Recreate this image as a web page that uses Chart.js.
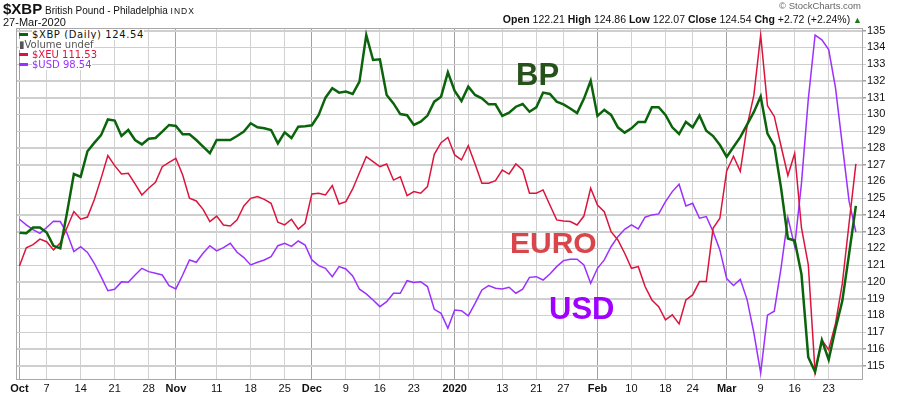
<!DOCTYPE html>
<html>
<head>
<meta charset="utf-8">
<script src="https://cdn.jsdelivr.net/npm/chart.js@4.4.1/dist/chart.umd.min.js"></script>
<style>
  html, body { margin: 0; padding: 0; background: #fff; }
  #wrap { position: relative; width: 900px; height: 396px; overflow: hidden; font-family: "Liberation Sans", Arial, sans-serif; }
  #c { position: absolute; left: 0; top: 0; }
  .t { position: absolute; white-space: nowrap; line-height: 1; color: #111; }
  .ann { position: absolute; white-space: nowrap; line-height: 1; font-weight: bold; font-family: "Liberation Sans", Arial, sans-serif; }
  .lg { position: absolute; left: 19px; white-space: nowrap; line-height: 1; font-size: 10px; font-family: "DejaVu Sans", sans-serif; }
  .lg i { display: inline-block; width: 9px; height: 3px; vertical-align: middle; margin-right: 4px; position: relative; top: -1px; }
  .lg span { background: #fff; }
</style>
</head>
<body>
<div id="wrap">
  <canvas id="c" width="900" height="396"></canvas>

  <div class="t" style="left:3px; top:1px;"><span style="font-weight:bold;font-size:15px;">$XBP</span><span style="font-size:10px;"> British Pound - Philadelphia </span><span style="font-size:8.5px;letter-spacing:1px;">INDX</span></div>
  <div class="t" style="left:3px; top:17px; font-size:11px;">27-Mar-2020</div>
  <div class="t" style="right:39px; top:1px; font-size:9.5px; color:#666;">© StockCharts.com</div>
  <div class="t" style="right:38px; top:14px; font-size:10.5px;"><b>Open</b> 122.21 <b>High</b> 124.86 <b>Low</b> 122.07 <b>Close</b> 124.54 <b>Chg</b> +2.72 (+2.24%) <span style="color:#1a7a1a;font-size:9px;">▲</span></div>

  <div class="lg" style="top:30px;"><i style="background:#0b640b"></i><span style="color:#111;letter-spacing:0.6px;">$XBP (Daily) 124.54</span></div>
  <div class="lg" style="top:40px;"><span style="color:#555;">▮Volume undef</span></div>
  <div class="lg" style="top:50px;"><i style="background:#dc143c"></i><span style="color:#dc143c;">$XEU 111.53</span></div>
  <div class="lg" style="top:60px;"><i style="background:#9b30ff"></i><span style="color:#9b30ff;">$USD 98.54</span></div>

  <div class="ann" style="left:516px; top:59px; font-size:31px; color:#26511b;">BP</div>
  <div class="ann" style="left:510px; top:228px; font-size:30px; color:#d9454a;">EURO</div>
  <div class="ann" style="left:549px; top:293px; font-size:31px; color:#a000ff;">USD</div>
</div>

<script>
// ---- Data (trading days 1-Oct-2019 .. 27-Mar-2020) ----
const xbp = [
  122.94,122.90,123.25,123.25,122.95,122.15,122.00,124.15,126.44,126.28,
  127.80,128.30,128.76,129.70,129.63,128.71,129.07,128.47,128.21,128.55,
  128.59,128.97,129.37,129.31,128.81,128.81,128.47,128.07,127.68,128.47,
  128.47,128.47,128.71,128.97,129.47,129.23,129.17,129.07,128.27,128.93,
  128.59,129.27,129.30,129.35,129.97,131.00,131.56,131.30,131.36,131.22,
  131.96,134.74,133.25,133.29,131.16,130.66,130.02,129.95,129.37,129.57,
  129.93,130.76,131.06,132.51,131.40,130.80,131.66,131.16,130.96,130.60,
  130.60,129.91,130.10,130.46,130.62,130.16,130.42,131.30,131.22,130.76,
  130.60,130.35,130.08,130.93,132.01,129.91,130.27,129.97,129.23,128.91,
  129.17,129.55,129.55,130.43,130.43,129.97,129.23,128.83,129.55,129.23,
  129.93,129.03,128.71,128.18,127.46,128.05,128.64,129.39,130.15,131.07,
  128.85,128.14,125.60,122.59,122.47,120.45,115.50,114.63,116.52,115.35,
  117.20,118.85,121.67,124.54
];
const xeu = [
  120.95,122.04,122.22,122.55,122.40,121.91,122.32,123.25,124.20,123.74,
  123.87,124.90,126.18,127.54,126.94,126.44,126.48,125.85,125.19,125.59,
  125.95,126.88,127.14,127.38,126.38,124.99,124.83,124.33,123.60,123.93,
  123.40,123.34,123.70,124.53,124.99,125.09,124.93,124.69,123.56,123.40,
  123.74,123.15,123.50,125.25,125.29,125.19,125.75,124.65,124.79,125.55,
  126.52,127.48,127.18,126.88,127.04,126.08,126.28,125.15,125.39,125.29,
  125.69,127.62,128.31,128.63,127.58,127.28,128.13,127.04,125.89,125.89,
  126.04,126.68,126.44,127.04,126.68,125.29,125.29,125.49,124.59,123.70,
  123.64,123.60,123.40,123.93,125.59,124.59,124.19,123.00,122.50,121.71,
  120.81,120.91,119.72,118.92,118.52,117.73,118.03,117.49,118.92,119.22,
  120.02,120.02,123.20,123.80,126.62,127.50,126.60,129.30,131.15,134.74,
  130.52,129.88,128.10,126.35,127.67,123.22,121.03,114.60,116.52,115.95,
  117.50,119.88,123.50,127.05
];
const usd = [
  123.74,123.40,123.12,122.90,123.25,123.62,123.60,122.90,121.81,122.10,
  121.76,121.11,120.31,119.47,119.56,120.00,119.98,120.41,120.81,120.61,
  120.51,120.41,119.78,119.58,120.41,121.31,121.17,121.71,122.16,121.85,
  122.04,122.30,121.77,121.45,121.01,121.17,121.31,121.51,122.16,122.30,
  122.12,122.44,122.20,121.31,120.97,120.81,120.31,120.91,120.77,120.35,
  119.56,119.28,118.92,118.52,118.82,119.32,119.32,120.07,119.97,120.01,
  119.72,118.36,118.12,117.23,118.32,118.28,117.97,118.72,119.52,119.78,
  119.62,119.58,119.68,119.32,119.56,120.27,120.31,120.11,120.47,120.91,
  121.27,121.35,121.35,121.01,119.92,120.81,121.31,122.10,122.70,123.14,
  123.40,123.16,123.86,124.00,124.06,124.79,125.39,125.83,124.53,124.69,
  123.80,123.90,123.00,121.91,120.20,119.78,120.15,118.94,116.95,114.56,
  118.01,118.25,120.83,123.84,122.12,125.90,130.90,134.74,134.45,133.87,
  131.60,128.20,124.82,122.98
];
// x-axis ticks: trading-day index of each weekly grid line and its label
const tickPos    = [0, 4, 9, 14, 19, 23, 29, 34, 39, 43, 48, 53, 58, 62, 64, 66, 71, 76, 80, 85, 90, 95, 99, 104, 109, 114, 119];
const tickLabels = ["Oct","7","14","21","28","Nov","11","18","25","Dec","9","16","23","","2020","","13","21","27","Feb","10","18","24","Mar","9","16","23"];
const monthTicks = [0, 23, 43, 64, 85, 104];
const yTicks = [115,116,117,118,119,120,121,122,123,124,125,126,127,128,129,130,131,132,133,134,135];

const toPts = arr => arr.map((v, i) => ({ x: i, y: v }));

const framePlugin = {
  id: 'frame',
  beforeDatasetsDraw(chart) {
    const a = chart.chartArea, c = chart.ctx;
    const ys = chart.scales.y;
    c.save();
    c.strokeStyle = '#cfcfcf';
    c.lineWidth = 1;
    yTicks.forEach(v => {
      const y = Math.round(ys.getPixelForValue(v)) + 0.5;
      c.beginPath(); c.moveTo(a.left, y); c.lineTo(a.right + 4, y); c.stroke();
    });
    c.restore();
  },
  afterDatasetsDraw(chart) {
    const a = chart.chartArea, c = chart.ctx;
    c.save();
    c.strokeStyle = '#a8a8a8';
    c.lineWidth = 1;
    c.strokeRect(Math.round(a.left) + 0.5, Math.round(a.top) + 0.5, Math.round(a.right - a.left), Math.round(a.bottom - a.top));
    c.restore();
  }
};

new Chart(document.getElementById('c'), {
  type: 'line',
  data: {
    datasets: [
      { label: '$XBP', data: toPts(xbp), borderColor: '#0b640b', borderWidth: 2.5 },
      { label: '$XEU', data: toPts(xeu), borderColor: '#dc143c', borderWidth: 1.5 },
      { label: '$USD', data: toPts(usd), borderColor: '#9b30ff', borderWidth: 1.5 }
    ]
  },
  options: {
    responsive: false,
    animation: false,
    devicePixelRatio: 1,
    elements: { point: { radius: 0 }, line: { tension: 0, borderJoinStyle: 'miter' } },
    layout: { padding: { left: 16, top: 28, right: 0, bottom: 0 } },
    plugins: { legend: { display: false }, tooltip: { enabled: false } },
    scales: {
      x: {
        type: 'linear',
        min: -0.51,
        max: 123.9,
        afterBuildTicks: s => { s.ticks = tickPos.map(v => ({ value: v })); },
        afterFit: s => { s.height = 17; },
        grid: {
          color: ctx => (ctx.tick && monthTicks.includes(ctx.tick.value)) ? '#a0a0a0' : '#d2d2d2',
          lineWidth: 1,
          drawTicks: false
        },
        border: { display: false },
        ticks: {
          autoSkip: false,
          maxRotation: 0,
          padding: 3,
          color: '#111',
          font: ctx => ({ family: 'Liberation Sans, Arial, sans-serif', size: 11, weight: (ctx.tick && monthTicks.includes(ctx.tick.value)) ? 'bold' : 'normal' }),
          callback: (v) => { const k = tickPos.indexOf(v); return k >= 0 ? tickLabels[k] : ''; }
        }
      },
      y: {
        position: 'right',
        min: 114.2,
        max: 135.16,
        afterBuildTicks: s => { s.ticks = yTicks.map(v => ({ value: v })); },
        afterFit: s => { s.width = 38; },
        grid: { color: '#cfcfcf', lineWidth: 1, tickLength: 4, tickColor: '#a0a0a0' },
        border: { display: false },
        ticks: {
          padding: 1,
          color: '#111',
          font: { family: 'Liberation Sans, Arial, sans-serif', size: 11 }
        }
      }
    }
  },
  plugins: [framePlugin]
});
</script>
</body>
</html>
